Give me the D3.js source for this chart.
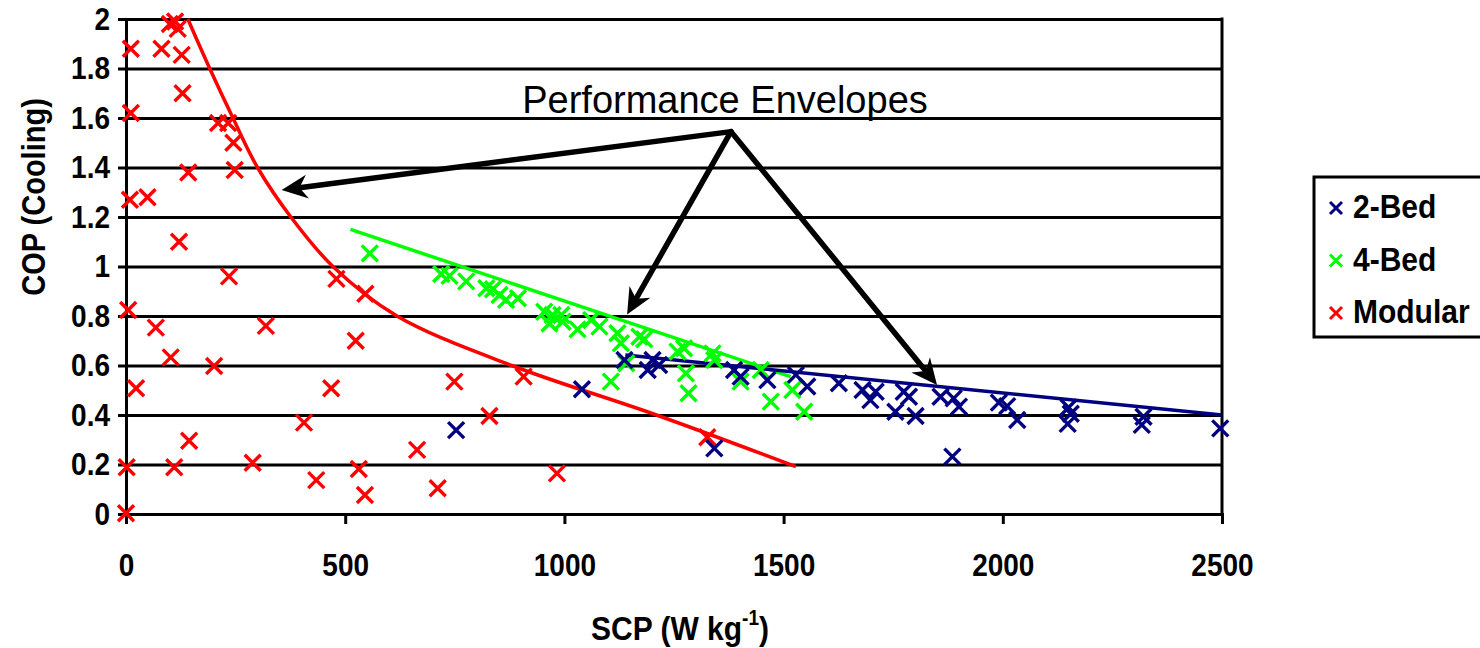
<!DOCTYPE html>
<html>
<head>
<meta charset="utf-8">
<script src="https://cdn.jsdelivr.net/npm/d3@7"></script>
<style>
  body { margin: 0; background: #fff; }
  svg { display: block; font-family: "Liberation Sans", Arial, sans-serif; }
</style>
</head>
<body>
<svg id="chart" width="1480" height="648"></svg>
<script>
// ---- data: [SCP (W/kg), COP] ----
var bed2 = [[753,0.339],[1040,0.504],[1137,0.622],[1190,0.582],[1201,0.622],[1216,0.602],
  [1387,0.582],[1402,0.555],[1463,0.541],[1528,0.562],[1554,0.515],[1342,0.265],[1626,0.528],
  [1680,0.501],[1698,0.46],[1710,0.494],[1755,0.413],[1774,0.494],[1786,0.474],[1801,0.396],
  [1858,0.474],[1888,0.467],[1900,0.434],[1885,0.232],[1991,0.45],[2010,0.436],[2033,0.38],
  [2150,0.43],[2155,0.405],[2148,0.364],[2321,0.393],[2317,0.36],[2496,0.346]];

var bed4 = [[556,1.053],[719,0.97],[738,0.962],[776,0.94],[822,0.912],[837,0.908],[852,0.885],
  [867,0.865],[894,0.872],[954,0.817],[973,0.804],[966,0.77],[993,0.804],[996,0.777],[1030,0.746],
  [1061,0.784],[1080,0.757],[1121,0.73],[1129,0.69],[1171,0.716],[1182,0.706],[1141,0.609],
  [1106,0.535],[1258,0.656],[1273,0.67],[1277,0.568],[1283,0.488],[1338,0.649],[1342,0.622],
  [1402,0.535],[1448,0.582],[1471,0.454],[1520,0.501],[1547,0.413]];

var modular = [[11,1.88],[81,1.88],[100,1.98],[112,1.99],[118,1.96],[127,1.855],[129,1.70],
  [11,1.62],[210,1.58],[233,1.58],[245,1.50],[142,1.38],[248,1.39],[9,1.27],[49,1.28],[121,1.10],
  [235,0.96],[480,0.95],[546,0.89],[5,0.824],[68,0.753],[319,0.76],[524,0.70],[102,0.633],
  [201,0.598],[23,0.508],[468,0.508],[406,0.369],[144,0.296],[1.5,0.189],[110,0.189],[289,0.207],
  [434,0.137],[531,0.182],[545,0.077],[0,0.003],[749,0.535],[907,0.555],[829,0.396],[664,0.259],
  [711,0.104],[983,0.164],[1326,0.31]];

// performance envelopes
var envModular = [[141,2.0],[191,1.8],[244,1.6],[300,1.4],[376,1.2],[472,1.0],[618,0.8],
  [880,0.6],[1210,0.4],[1528,0.191]];
var env4Bed = [[512,1.15],[1516,0.555]];
var env2Bed = [[1139,0.642],[2500,0.40]];

// annotation arrows: start point and the three tips
var arrowFrom = [1380,1.545];
var arrowTips = [[355,1.309],[1143,0.806],[1850,0.521]];

var xTicks = [0,500,1000,1500,2000,2500];
var yTicks = [0,0.2,0.4,0.6,0.8,1,1.2,1.4,1.6,1.8,2];
var seriesNames = ["2-Bed","4-Bed","Modular"];
var seriesColors = ["#000080","#00ff00","#ff0000"];

function drawChart(){
  var plotLeft = 126, plotRight = 1222, plotTop = 19, plotBottom = 514;
  var stretch = 1.13;   // the original glyphs are a bit taller than wide
  var svg = d3.select("#chart");

  var x = d3.scaleLinear().domain([0,2500]).range([plotLeft,plotRight]);
  var y = d3.scaleLinear().domain([0,2]).range([plotBottom,plotTop]);

  // gridlines
  svg.append("g")
    .attr("transform","translate(" + plotLeft + ",0)")
    .call(d3.axisLeft(y).tickValues(yTicks).tickSize(-(plotRight-plotLeft)).tickFormat(""))
    .call(function(g){ g.select(".domain").remove(); })
    .selectAll("line").attr("stroke","#000").attr("stroke-width",3);

  // right border
  svg.append("line")
    .attr("x1",plotRight).attr("x2",plotRight).attr("y1",plotTop-1.5).attr("y2",plotBottom+1.5)
    .attr("stroke","#000").attr("stroke-width",3);

  // y axis
  var yAxis = svg.append("g")
    .attr("transform","translate(" + plotLeft + ",0)")
    .call(d3.axisLeft(y).tickValues(yTicks).tickSize(8).tickPadding(8).tickFormat(function(d){ return String(d); }));
  yAxis.select(".domain").attr("stroke","#000").attr("stroke-width",3);
  yAxis.selectAll(".tick line").attr("stroke","#000").attr("stroke-width",3);
  yAxis.selectAll("text").attr("font-size",28).attr("font-weight","bold").attr("fill","#000")
    .attr("font-family","Liberation Sans, Arial, sans-serif")
    .attr("transform","scale(1," + stretch + ")");

  // x axis
  var xAxis = svg.append("g")
    .attr("transform","translate(0," + plotBottom + ")")
    .call(d3.axisBottom(x).tickValues(xTicks).tickSize(10).tickPadding(25).tickFormat(d3.format("d")));
  xAxis.select(".domain").attr("stroke","#000").attr("stroke-width",3);
  xAxis.selectAll(".tick line").attr("stroke","#000").attr("stroke-width",3);
  xAxis.selectAll("text").attr("font-size",28).attr("font-weight","bold").attr("fill","#000")
    .attr("font-family","Liberation Sans, Arial, sans-serif")
    .attr("transform","scale(1," + stretch + ")");

  // axis titles
  svg.append("text")
    .attr("transform","translate(45,197) rotate(-90) scale(1," + stretch + ")")
    .attr("text-anchor","middle")
    .attr("font-size",29).attr("font-weight","bold")
    .text("COP (Cooling)");

  var xt = svg.append("text")
    .attr("transform","translate(680,640) scale(1," + stretch + ")")
    .attr("text-anchor","middle")
    .attr("font-size",30).attr("font-weight","bold");
  xt.append("tspan").text("SCP (W kg");
  xt.append("tspan").attr("font-size",19).attr("dy",-13).text("-1");
  xt.append("tspan").attr("dy",13).text(")");

  // envelope lines
  var line = d3.line().x(function(d){ return x(d[0]); }).y(function(d){ return y(d[1]); });
  svg.append("path").datum(envModular)
    .attr("d",line.curve(d3.curveCatmullRom.alpha(0.5)))
    .attr("fill","none").attr("stroke","#ff0000").attr("stroke-width",3.5);
  svg.append("path").datum(env4Bed)
    .attr("d",line.curve(d3.curveLinear))
    .attr("fill","none").attr("stroke","#00ff00").attr("stroke-width",3.5);
  svg.append("path").datum(env2Bed)
    .attr("d",line.curve(d3.curveLinear))
    .attr("fill","none").attr("stroke","#000080").attr("stroke-width",3.5);

  // cross markers
  function cross(size){
    return "M" + (-size) + "," + (-size) + "L" + size + "," + size +
           "M" + (-size) + "," + size + "L" + size + "," + (-size);
  }
  function drawSeries(data, color){
    svg.append("g").selectAll("path")
      .data(data)
      .join("path")
      .attr("transform",function(d){ return "translate(" + x(d[0]) + "," + y(d[1]) + ")"; })
      .attr("d",cross(8))
      .attr("fill","none")
      .attr("stroke",color)
      .attr("stroke-width",3.4);
  }
  drawSeries(modular,"#ff0000");
  drawSeries(bed4,"#00ff00");
  drawSeries(bed2,"#000080");

  // annotation
  svg.append("text")
    .attr("x",725).attr("y",113)
    .attr("text-anchor","middle")
    .attr("font-size",38)
    .text("Performance Envelopes");

  var ax = x(arrowFrom[0]), ay = y(arrowFrom[1]);
  arrowTips.forEach(function(t){
    var tx = x(t[0]), ty = y(t[1]);
    var dx = tx - ax, dy = ty - ay, len = Math.sqrt(dx*dx + dy*dy);
    var ux = dx/len, uy = dy/len, px = -uy, py = ux;
    var L = 26, W = 12, notch = 18;
    var bx = tx - ux*L, by = ty - uy*L;
    svg.append("line")
      .attr("x1",ax).attr("y1",ay)
      .attr("x2",tx - ux*notch).attr("y2",ty - uy*notch)
      .attr("stroke","#000").attr("stroke-width",5.5).attr("stroke-linecap","round");
    svg.append("path")
      .attr("d","M" + tx + "," + ty +
        "L" + (bx + px*W) + "," + (by + py*W) +
        "L" + (tx - ux*notch) + "," + (ty - uy*notch) +
        "L" + (bx - px*W) + "," + (by - py*W) + "Z")
      .attr("fill","#000");
  });

  // legend
  svg.append("rect")
    .attr("x",1314).attr("y",177).attr("width",180).attr("height",160)
    .attr("fill","#fff").attr("stroke","#000").attr("stroke-width",3);
  var legend = svg.append("g").selectAll("g")
    .data(seriesNames)
    .join("g")
    .attr("transform",function(d,i){ return "translate(1336," + (208 + i*52.5) + ")"; });
  legend.append("path")
    .attr("d",cross(6))
    .attr("fill","none")
    .attr("stroke",function(d,i){ return seriesColors[i]; })
    .attr("stroke-width",3);
  legend.append("text")
    .attr("transform","translate(17,10) scale(1," + stretch + ")")
    .attr("font-size",30).attr("font-weight","bold")
    .text(function(d){ return d; });
}

drawChart();
</script>
</body>
</html>
